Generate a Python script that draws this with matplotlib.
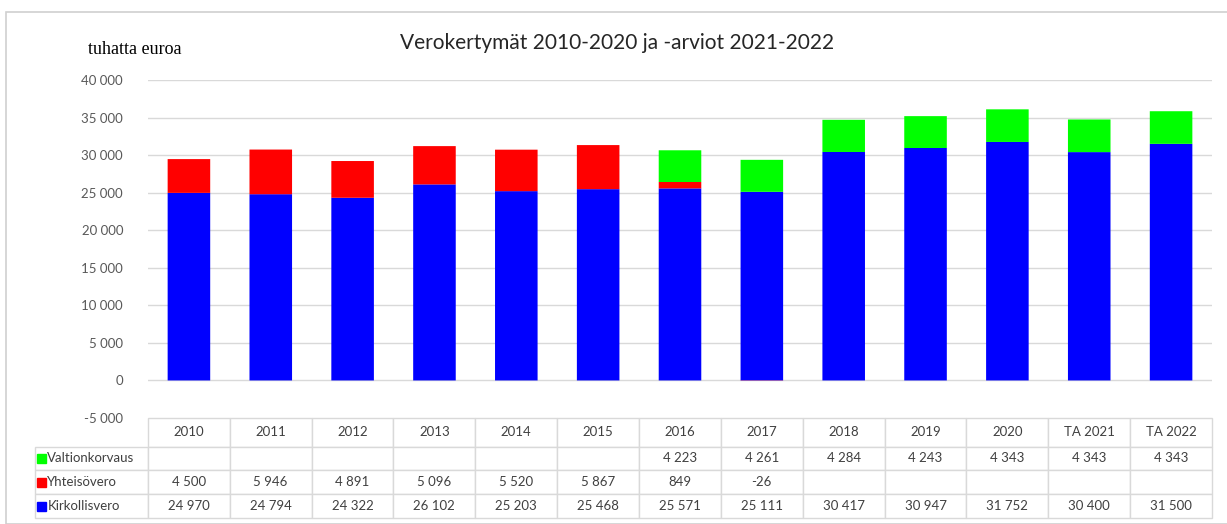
import numpy as np
import matplotlib.pyplot as plt
from matplotlib.table import Table
from matplotlib.patches import Rectangle

years = ["2010", "2011", "2012", "2013", "2014", "2015", "2016", "2017",
         "2018", "2019", "2020", "TA 2021", "TA 2022"]
kirkollisvero = [24970, 24794, 24322, 26102, 25203, 25468, 25571, 25111,
                 30417, 30947, 31752, 30400, 31500]
yhteisovero = [4500, 5946, 4891, 5096, 5520, 5867, 849, -26,
               None, None, None, None, None]
valtionkorvaus = [None, None, None, None, None, None, 4223, 4261,
                  4284, 4243, 4343, 4343, 4343]

series = [("Kirkollisvero", kirkollisvero, "#0000ff"),
          ("Yhteisövero", yhteisovero, "#ff0000"),
          ("Valtionkorvaus", valtionkorvaus, "#00ff00")]

plt.rcParams["font.family"] = ["Lato", "DejaVu Sans"]


def fmt(v):
    if v is None:
        return ""
    return f"{v:,}".replace(",", " ")


W, H = 1227, 524
fig = plt.figure(figsize=(W / 100, H / 100), dpi=100)
fig.patches.append(Rectangle((6 / W, 0), 1.5, 1 - 12 / H, transform=fig.transFigure,
                             fill=False, edgecolor="#d0d0d0", lw=1.2))

ax_l, ax_r, ax_t, ax_b = 148, 1212, 80, 418
ax = fig.add_axes([ax_l / W, 1 - ax_b / H, (ax_r - ax_l) / W, (ax_b - ax_t) / H])

x = np.arange(len(years))
pos_bottom = np.zeros(len(years))
neg_bottom = np.zeros(len(years))
for name, vals, color in series:
    v = np.array([0 if a is None else a for a in vals], dtype=float)
    bottom = np.where(v >= 0, pos_bottom, neg_bottom)
    # snap=False so the tiny -26 sliver stays sub-pixel as in the original
    ax.bar(x, v, 0.52, bottom=bottom, color=color, lw=0, zorder=3, snap=False)
    pos_bottom += np.where(v >= 0, v, 0)
    neg_bottom += np.where(v < 0, v, 0)

ax.set_xlim(-0.5, len(years) - 0.5)
ax.set_ylim(-5000, 40000)
ticks = np.arange(-5000, 40001, 5000)
ax.set_yticks(ticks)
ax.set_yticklabels([fmt(int(t)) for t in ticks], color="#595959", fontsize=9.5)
ax.tick_params(axis="y", length=0, pad=18)
ax.set_xticks([])
for t in ticks:
    if t >= 0:
        ax.axhline(t, color="#d9d9d9", lw=1, zorder=1)
for s in ax.spines.values():
    s.set_visible(False)

# data table below the plot
tab_left = (35 - ax_l) / (ax_r - ax_l)
tab_h = 100 / (ax_b - ax_t)
tbl = Table(ax, bbox=[tab_left, -tab_h, 1 - tab_left, tab_h])
lab_w, col_w = 113, 82
rows = [("Valtionkorvaus", valtionkorvaus, "#00ff00"),
        ("Yhteisövero", yhteisovero, "#ff0000"),
        ("Kirkollisvero", kirkollisvero, "#0000ff")]
row_hs = [29, 23, 24, 24]
corner = tbl.add_cell(0, 0, lab_w, row_hs[0], text="")
corner.visible_edges = ""
for j, yr in enumerate(years):
    tbl.add_cell(0, j + 1, col_w, row_hs[0], text=yr, loc="center")
for i, (name, vals, color) in enumerate(rows):
    c = tbl.add_cell(i + 1, 0, lab_w, row_hs[i + 1], text=name, loc="left")
    c.PAD = 0.11
    for j, v in enumerate(vals):
        tbl.add_cell(i + 1, j + 1, col_w, row_hs[i + 1], text=fmt(v), loc="center")
for cell in tbl.get_celld().values():
    cell.set_edgecolor("#d9d9d9")
    cell.set_linewidth(1)
    cell.get_text().set_fontsize(9.5)
    cell.get_text().set_color("#404040")
tbl.auto_set_font_size(False)
ax.add_table(tbl)

# legend keys in the label column
ax_hpx = ax_b - ax_t
y_top = ax_b + row_hs[0]
for i, (name, vals, color) in enumerate(rows):
    yc_px = y_top + sum(row_hs[1:i + 1]) + row_hs[i + 1] / 2
    yc = (ax_b - yc_px) / ax_hpx
    ax.add_patch(Rectangle(((37 - ax_l) / (ax_r - ax_l), yc - 4.5 / ax_hpx),
                           9 / (ax_r - ax_l), 9 / ax_hpx,
                           transform=ax.transAxes, color=color, clip_on=False))

fig.text(617 / W, 1 - 43 / H, "Verokertymät 2010-2020 ja -arviot 2021-2022",
         ha="center", va="center", fontsize=15, color="#262626")
fig.text(88 / W, 1 - 50 / H, "tuhatta euroa", ha="left", va="center",
         fontsize=13, family=["Liberation Serif", "DejaVu Serif"])

fig.savefig("out.png", dpi=100)
